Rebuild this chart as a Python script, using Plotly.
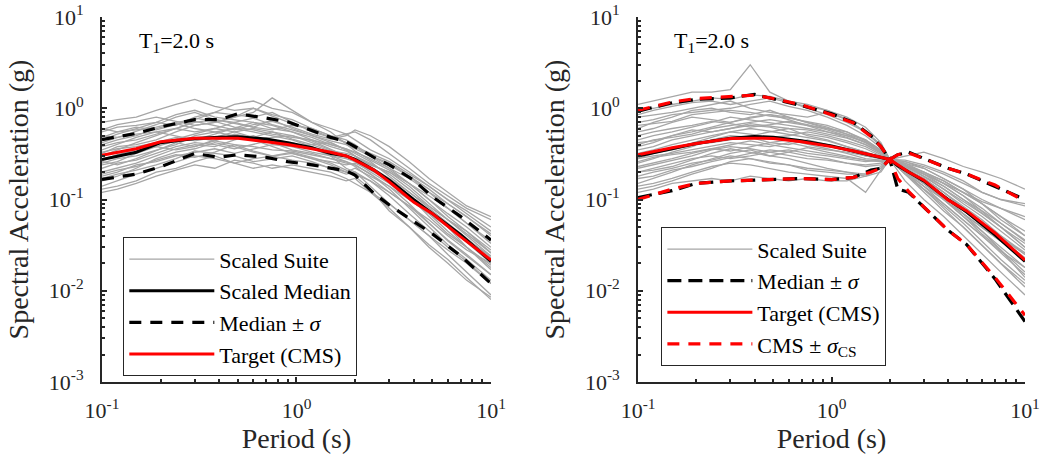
import plotly.graph_objects as go

# ---------------- data ----------------
# common period grid for the suite records (s)
suite_periods = [0.1, 0.12, 0.15, 0.19, 0.24, 0.3, 0.38, 0.48, 0.6, 0.75, 0.95,
                 1.2, 1.5, 1.8, 2.0, 2.4, 3.0, 3.8, 4.8, 6.0, 7.5, 10.0]

left_suite = [
    [0.70,0.75,0.80,0.95,1.10,1.25,1.05,0.95,1.00,0.85,0.75,0.60,0.50,0.45,0.40,0.30,0.22,0.15,0.10,0.065,0.045,0.026],
    [0.13,0.14,0.16,0.20,0.22,0.26,0.30,0.25,0.22,0.24,0.22,0.20,0.18,0.16,0.17,0.12,0.09,0.06,0.04,0.028,0.020,0.012],
    [0.45,0.52,0.60,0.70,0.65,0.80,0.90,1.10,1.20,1.00,0.90,0.70,0.60,0.52,0.45,0.35,0.28,0.20,0.14,0.10,0.070,0.045],
    [0.20,0.22,0.25,0.30,0.36,0.40,0.38,0.45,0.50,0.42,0.35,0.32,0.28,0.25,0.24,0.19,0.13,0.08,0.05,0.032,0.022,0.013],
    [0.30,0.35,0.42,0.50,0.60,0.55,0.60,0.70,0.62,0.75,0.60,0.50,0.42,0.35,0.30,0.24,0.20,0.14,0.09,0.06,0.045,0.028],
    [0.16,0.18,0.22,0.28,0.33,0.36,0.42,0.38,0.33,0.30,0.27,0.25,0.22,0.20,0.22,0.18,0.14,0.09,0.055,0.035,0.024,0.015],
    [0.55,0.62,0.65,0.70,0.85,0.95,0.80,0.75,0.70,0.60,0.55,0.45,0.38,0.34,0.30,0.25,0.19,0.13,0.085,0.06,0.040,0.024],
    [0.25,0.28,0.30,0.35,0.40,0.50,0.55,0.60,0.55,0.50,0.45,0.38,0.30,0.28,0.26,0.20,0.15,0.10,0.07,0.05,0.034,0.020],
    [0.35,0.40,0.48,0.55,0.50,0.45,0.52,0.60,0.70,0.65,0.55,0.48,0.40,0.36,0.32,0.26,0.18,0.12,0.08,0.055,0.038,0.023],
    [0.18,0.20,0.24,0.26,0.30,0.33,0.36,0.32,0.36,0.40,0.38,0.33,0.30,0.26,0.24,0.19,0.14,0.10,0.07,0.045,0.030,0.018],
    [0.60,0.55,0.58,0.62,0.70,0.75,0.90,0.85,0.80,0.90,0.70,0.55,0.48,0.52,0.55,0.45,0.32,0.22,0.15,0.11,0.080,0.060],
    [0.22,0.25,0.27,0.32,0.38,0.42,0.40,0.36,0.40,0.45,0.42,0.36,0.30,0.22,0.20,0.14,0.09,0.06,0.04,0.025,0.016,0.009],
    [0.40,0.45,0.50,0.60,0.68,0.60,0.55,0.50,0.45,0.48,0.50,0.44,0.36,0.30,0.28,0.24,0.20,0.15,0.11,0.08,0.055,0.035],
    [0.28,0.30,0.36,0.40,0.46,0.52,0.60,0.55,0.48,0.42,0.38,0.40,0.42,0.35,0.30,0.22,0.17,0.12,0.085,0.06,0.042,0.026],
    [0.14,0.16,0.19,0.22,0.26,0.30,0.28,0.25,0.28,0.30,0.32,0.28,0.24,0.20,0.19,0.16,0.11,0.07,0.045,0.03,0.021,0.012],
    [0.50,0.48,0.52,0.55,0.60,0.70,0.75,0.68,0.62,0.58,0.65,0.60,0.50,0.42,0.38,0.30,0.24,0.18,0.12,0.09,0.065,0.040],
    [0.32,0.38,0.40,0.45,0.55,0.65,0.70,0.80,0.90,1.30,0.95,0.70,0.55,0.40,0.34,0.27,0.21,0.15,0.10,0.07,0.050,0.030],
    [0.24,0.26,0.32,0.38,0.35,0.38,0.45,0.50,0.45,0.38,0.32,0.28,0.26,0.24,0.25,0.21,0.16,0.11,0.075,0.05,0.030,0.017],
    [0.38,0.42,0.45,0.52,0.60,0.72,0.65,0.58,0.66,0.72,0.62,0.52,0.46,0.50,0.58,0.50,0.38,0.26,0.17,0.12,0.085,0.065],
    [0.19,0.21,0.23,0.27,0.31,0.29,0.33,0.40,0.34,0.30,0.33,0.29,0.25,0.21,0.18,0.13,0.075,0.05,0.032,0.022,0.014,0.008],
    [0.48,0.55,0.62,0.58,0.66,0.78,0.72,0.62,0.58,0.52,0.48,0.45,0.40,0.36,0.33,0.28,0.22,0.17,0.12,0.08,0.055,0.033],
    [0.26,0.24,0.28,0.34,0.42,0.38,0.44,0.52,0.48,0.55,0.50,0.42,0.35,0.30,0.26,0.22,0.16,0.11,0.065,0.042,0.030,0.019],
    [0.12,0.13,0.15,0.18,0.21,0.24,0.22,0.27,0.25,0.22,0.24,0.22,0.20,0.17,0.15,0.12,0.08,0.05,0.03,0.02,0.013,0.0085],
    [0.42,0.48,0.56,0.66,0.80,0.90,0.75,0.70,0.78,0.66,0.58,0.50,0.44,0.40,0.36,0.30,0.25,0.18,0.13,0.09,0.065,0.042],
    [0.33,0.36,0.38,0.42,0.48,0.44,0.48,0.55,0.60,0.55,0.46,0.40,0.34,0.32,0.30,0.23,0.17,0.11,0.075,0.05,0.036,0.024],
    [0.17,0.19,0.21,0.24,0.28,0.34,0.32,0.30,0.26,0.28,0.30,0.26,0.22,0.19,0.20,0.16,0.12,0.085,0.06,0.04,0.028,0.020],
    [0.58,0.66,0.72,0.80,0.72,0.65,0.70,0.80,1.00,0.82,0.68,0.58,0.48,0.42,0.38,0.32,0.26,0.19,0.14,0.10,0.075,0.050],
    [0.27,0.31,0.35,0.38,0.44,0.48,0.44,0.40,0.38,0.35,0.34,0.31,0.28,0.26,0.23,0.17,0.12,0.085,0.055,0.036,0.025,0.015],
]

right_suite = [
    [1.10,1.20,1.35,1.50,1.50,1.60,3.00,1.50,1.20,1.10,0.95,0.75,0.55,0.38,0.275,0.30,0.33,0.28,0.23,0.20,0.17,0.13],
    [0.12,0.13,0.15,0.16,0.17,0.16,0.18,0.17,0.16,0.17,0.16,0.16,0.18,0.22,0.275,0.16,0.10,0.065,0.04,0.025,0.016,0.009],
    [0.60,0.70,0.80,0.95,1.00,0.90,0.85,0.95,0.80,0.70,0.60,0.55,0.45,0.34,0.275,0.22,0.16,0.10,0.065,0.042,0.028,0.016],
    [0.30,0.32,0.35,0.40,0.42,0.45,0.50,0.55,0.60,0.50,0.45,0.38,0.33,0.29,0.275,0.25,0.22,0.17,0.13,0.09,0.065,0.040],
    [0.20,0.22,0.25,0.28,0.30,0.28,0.30,0.33,0.35,0.32,0.30,0.28,0.26,0.27,0.275,0.20,0.14,0.09,0.06,0.04,0.026,0.015],
    [0.45,0.50,0.55,0.62,0.70,0.80,0.75,0.70,0.65,0.60,0.55,0.48,0.40,0.32,0.275,0.24,0.18,0.13,0.095,0.07,0.050,0.030],
    [0.15,0.17,0.20,0.24,0.28,0.32,0.35,0.30,0.28,0.25,0.22,0.20,0.19,0.22,0.275,0.27,0.24,0.20,0.16,0.12,0.100,0.085],
    [0.80,0.85,0.90,1.00,1.10,1.20,1.00,0.90,0.85,0.80,0.90,0.75,0.55,0.40,0.275,0.19,0.13,0.08,0.05,0.032,0.020,0.011],
    [0.25,0.28,0.33,0.38,0.45,0.50,0.48,0.42,0.40,0.45,0.40,0.35,0.30,0.28,0.275,0.23,0.19,0.15,0.11,0.075,0.050,0.030],
    [0.35,0.38,0.45,0.50,0.55,0.60,0.65,0.62,0.55,0.52,0.48,0.42,0.36,0.30,0.275,0.21,0.15,0.10,0.07,0.05,0.035,0.022],
    [0.18,0.20,0.22,0.25,0.27,0.30,0.28,0.25,0.24,0.22,0.21,0.20,0.18,0.20,0.275,0.25,0.20,0.15,0.12,0.095,0.080,0.060],
    [0.55,0.60,0.70,0.80,0.75,0.70,0.80,0.85,0.75,0.65,0.55,0.50,0.42,0.35,0.275,0.20,0.13,0.09,0.06,0.04,0.027,0.018],
    [0.28,0.30,0.32,0.35,0.38,0.42,0.40,0.38,0.42,0.38,0.35,0.33,0.30,0.28,0.275,0.22,0.17,0.12,0.085,0.06,0.040,0.025],
    [0.40,0.45,0.48,0.52,0.60,0.65,0.70,0.75,0.70,0.65,0.60,0.52,0.45,0.35,0.275,0.24,0.20,0.16,0.12,0.09,0.060,0.040],
    [0.22,0.24,0.27,0.30,0.35,0.38,0.36,0.33,0.30,0.28,0.27,0.25,0.24,0.25,0.275,0.21,0.16,0.11,0.07,0.045,0.028,0.014],
    [0.70,0.75,0.85,0.90,0.95,1.00,1.10,1.20,1.05,0.95,0.80,0.65,0.50,0.37,0.275,0.20,0.14,0.10,0.07,0.05,0.035,0.021],
    [0.14,0.15,0.17,0.20,0.23,0.25,0.24,0.22,0.20,0.19,0.18,0.17,0.12,0.21,0.275,0.23,0.19,0.14,0.10,0.07,0.050,0.033],
    [0.32,0.35,0.40,0.45,0.50,0.55,0.52,0.48,0.50,0.55,0.50,0.44,0.38,0.31,0.275,0.23,0.18,0.13,0.09,0.065,0.045,0.028],
    [0.95,1.00,1.10,1.20,1.30,1.25,1.40,1.35,1.20,1.00,0.85,0.70,0.55,0.40,0.275,0.22,0.15,0.10,0.065,0.045,0.030,0.018],
    [0.26,0.29,0.31,0.33,0.36,0.40,0.44,0.40,0.37,0.34,0.31,0.29,0.27,0.26,0.275,0.26,0.23,0.19,0.15,0.12,0.100,0.090],
    [0.50,0.55,0.60,0.65,0.72,0.68,0.62,0.66,0.72,0.66,0.58,0.50,0.43,0.34,0.275,0.19,0.12,0.075,0.05,0.032,0.020,0.012],
    [0.17,0.18,0.21,0.23,0.26,0.29,0.32,0.35,0.33,0.30,0.28,0.25,0.23,0.24,0.275,0.22,0.17,0.12,0.08,0.055,0.035,0.022],
    [0.38,0.42,0.50,0.55,0.62,0.70,0.78,0.85,0.80,0.70,0.62,0.52,0.42,0.33,0.275,0.23,0.18,0.14,0.10,0.075,0.055,0.035],
    [0.23,0.25,0.28,0.32,0.36,0.34,0.38,0.42,0.45,0.40,0.36,0.32,0.28,0.27,0.275,0.24,0.19,0.15,0.11,0.08,0.055,0.036],
    [0.65,0.68,0.72,0.85,0.90,0.95,0.90,0.82,0.78,0.72,0.65,0.55,0.44,0.34,0.275,0.21,0.15,0.11,0.075,0.052,0.036,0.023],
    [0.13,0.14,0.16,0.19,0.22,0.26,0.28,0.26,0.24,0.21,0.20,0.19,0.19,0.23,0.275,0.26,0.22,0.17,0.13,0.10,0.080,0.065],
    [0.42,0.44,0.50,0.58,0.55,0.60,0.68,0.64,0.60,0.58,0.52,0.47,0.40,0.33,0.275,0.22,0.17,0.12,0.08,0.055,0.038,0.025],
    [0.28,0.32,0.36,0.42,0.48,0.55,0.60,0.56,0.52,0.48,0.44,0.38,0.33,0.29,0.275,0.20,0.15,0.11,0.08,0.055,0.040,0.026],
    [0.85,0.95,1.05,1.15,1.20,1.10,1.20,1.30,1.15,1.05,0.95,0.80,0.62,0.42,0.275,0.24,0.20,0.16,0.12,0.09,0.065,0.045],
    [0.20,0.21,0.23,0.27,0.32,0.36,0.33,0.30,0.33,0.37,0.33,0.30,0.27,0.26,0.275,0.19,0.13,0.085,0.055,0.035,0.022,0.013],
]

# summary curves, left panel
left_periods = [0.1, 0.15, 0.2, 0.3, 0.4, 0.5, 0.7, 0.9, 1.2, 1.5, 1.8, 2.0, 2.5, 3.0, 4.0, 5.0, 7.0, 10.0]
left_target = [0.306, 0.36, 0.43, 0.47, 0.47, 0.47, 0.43, 0.40, 0.36, 0.33, 0.30, 0.27, 0.21, 0.156, 0.094, 0.070, 0.039, 0.0217]
left_median = [0.275, 0.33, 0.42, 0.466, 0.48, 0.486, 0.46, 0.42, 0.37, 0.32, 0.30, 0.275, 0.21, 0.163, 0.10, 0.070, 0.041, 0.021]
left_plus = [0.454, 0.53, 0.625, 0.75, 0.75, 0.87, 0.78, 0.71, 0.57, 0.48, 0.43, 0.38, 0.29, 0.24, 0.163, 0.107, 0.065, 0.036]
left_minus = [0.166, 0.19, 0.228, 0.32, 0.29, 0.31, 0.29, 0.26, 0.24, 0.22, 0.206, 0.185, 0.117, 0.087, 0.057, 0.042, 0.024, 0.012]

# summary curves, right panel
right_periods = [0.1, 0.15, 0.2, 0.3, 0.4, 0.5, 0.7, 1.0, 1.3, 1.6, 1.8, 2.0, 2.2, 2.5, 3.0, 4.0, 5.0, 7.0, 10.0]
right_target = [0.31, 0.37, 0.41, 0.466, 0.47, 0.466, 0.43, 0.38, 0.34, 0.31, 0.29, 0.275, 0.24, 0.20, 0.163, 0.099, 0.075, 0.043, 0.0217]
right_median = [0.30, 0.36, 0.41, 0.47, 0.49, 0.48, 0.44, 0.385, 0.34, 0.31, 0.29, 0.275, 0.235, 0.20, 0.16, 0.10, 0.073, 0.041, 0.021]
right_med_plus = [0.93, 1.15, 1.25, 1.30, 1.42, 1.27, 1.07, 0.87, 0.70, 0.50, 0.38, 0.275, 0.31, 0.33, 0.28, 0.22, 0.19, 0.14, 0.100]
right_med_minus = [0.105, 0.125, 0.15, 0.16, 0.163, 0.165, 0.17, 0.165, 0.175, 0.21, 0.22, 0.275, 0.13, 0.12, 0.083, 0.046, 0.032, 0.0135, 0.0046]
right_cms_plus = [0.95, 1.17, 1.28, 1.33, 1.39, 1.28, 1.09, 0.85, 0.69, 0.49, 0.38, 0.275, 0.31, 0.325, 0.28, 0.22, 0.19, 0.144, 0.096]
right_cms_minus = [0.10, 0.13, 0.15, 0.16, 0.163, 0.166, 0.17, 0.165, 0.175, 0.20, 0.22, 0.275, 0.17, 0.123, 0.083, 0.046, 0.032, 0.014, 0.0054]

x_tickvals = [0.1, 1, 10]
x_ticktext = ["10<sup>-1</sup>", "10<sup>0</sup>", "10<sup>1</sup>"]
y_tickvals = [0.001, 0.01, 0.1, 1, 10]
y_ticktext = ["10<sup>-3</sup>", "10<sup>-2</sup>", "10<sup>-1</sup>", "10<sup>0</sup>", "10<sup>1</sup>"]
x_minor = [m * d for d in (0.1, 1) for m in range(2, 10)]
y_minor = [m * d for d in (0.001, 0.01, 0.1, 1) for m in range(2, 10)]

# ---------------- styles ----------------
FONT = "Liberation Serif, Times New Roman, serif"
AX = "#262626"
GRAY = "#a6a6a6"
RED = "#ff0000"

fig = go.Figure()

def add(x, y, xa, ya, lg, **kw):
    fig.add_trace(go.Scatter(x=x, y=y, mode="lines", xaxis=xa, yaxis=ya, legend=lg,
                             hoverinfo="skip", **kw))

# left panel
for i, rec in enumerate(left_suite):
    add(suite_periods, rec, "x", "y", "legend", name="Scaled Suite", legendgroup="ls",
        showlegend=(i == 0), line=dict(color=GRAY, width=1.3))
add(left_periods, left_median, "x", "y", "legend", name="Scaled Median",
    line=dict(color="black", width=3))
add(left_periods, left_plus, "x", "y", "legend", name="Median ± <i>σ</i>", legendgroup="lpm",
    line=dict(color="black", width=3.2, dash="12px,9px"))
add(left_periods, left_minus, "x", "y", "legend", name="Median ± <i>σ</i>", legendgroup="lpm",
    showlegend=False, line=dict(color="black", width=3.2, dash="12px,9px"))
add(left_periods, left_target, "x", "y", "legend", name="Target (CMS)",
    line=dict(color=RED, width=3))

# right panel
for i, rec in enumerate(right_suite):
    add(suite_periods, rec, "x2", "y2", "legend2", name="Scaled Suite", legendgroup="rs",
        showlegend=(i == 0), line=dict(color=GRAY, width=1.3))
add(right_periods, right_med_plus, "x2", "y2", "legend2", name="Median ± <i>σ</i>", legendgroup="rpm",
    line=dict(color="black", width=3.2, dash="14px,7px"))
add(right_periods, right_med_minus, "x2", "y2", "legend2", name="Median ± <i>σ</i>", legendgroup="rpm",
    showlegend=False, line=dict(color="black", width=3.2, dash="14px,7px"))
add(right_periods, right_median, "x2", "y2", "legend2", name="Scaled Median",
    showlegend=False, line=dict(color="black", width=3))
add(right_periods, right_target, "x2", "y2", "legend2", name="Target (CMS)",
    line=dict(color=RED, width=3))
add(right_periods, right_cms_plus, "x2", "y2", "legend2", name="CMS ± <i>σ</i><sub>CS</sub>", legendgroup="rcs",
    line=dict(color=RED, width=3.2, dash="12px,9px"))
add(right_periods, right_cms_minus, "x2", "y2", "legend2", name="CMS ± <i>σ</i><sub>CS</sub>", legendgroup="rcs",
    showlegend=False, line=dict(color=RED, width=3.2, dash="12px,9px"))

YDOM = [0.1872, 0.9638]

def xaxis(domain, anchor):
    return dict(type="log", range=[-1, 1], domain=domain, anchor=anchor,
                showline=True, linecolor=AX, linewidth=1.8, mirror=False,
                showgrid=False, zeroline=False,
                ticks="inside", ticklen=5, tickwidth=1.5, tickcolor=AX,
                tickmode="array", tickvals=x_tickvals, ticktext=x_ticktext,
                tickfont=dict(family=FONT, size=22, color=AX), ticklabelstandoff=8,
                minor=dict(ticks="inside", ticklen=3, tickwidth=1.5, tickcolor=AX,
                           tickmode="array", tickvals=x_minor, showgrid=False),
                title=dict(text="Period (s)", font=dict(family=FONT, size=28, color=AX), standoff=6),
                automargin=False)

def yaxis(anchor):
    return dict(type="log", range=[-3, 1], domain=YDOM, anchor=anchor,
                showline=True, linecolor=AX, linewidth=1.8, mirror=False,
                showgrid=False, zeroline=False,
                ticks="inside", ticklen=5, tickwidth=1.5, tickcolor=AX,
                tickmode="array", tickvals=y_tickvals, ticktext=y_ticktext,
                tickfont=dict(family=FONT, size=22, color=AX), ticklabelstandoff=12,
                minor=dict(ticks="inside", ticklen=3, tickwidth=1.5, tickcolor=AX,
                           tickmode="array", tickvals=y_minor, showgrid=False),
                title=dict(text="Spectral Acceleration (g)", font=dict(family=FONT, size=28, color=AX), standoff=12),
                automargin=False)

legend_common = dict(xanchor="left", yanchor="top", bgcolor="white",
                     bordercolor=AX, borderwidth=1.3,
                     font=dict(family=FONT, size=22, color="black"),
                     tracegroupgap=0, itemwidth=85)

fig.update_layout(
    width=1046, height=470,
    margin=dict(l=0, r=0, t=0, b=0),
    paper_bgcolor="white", plot_bgcolor="white",
    font=dict(family=FONT, color=AX),
    xaxis=xaxis([0.0975, 0.4694], "y"),
    yaxis=yaxis("x"),
    xaxis2=xaxis([0.6100, 0.9799], "y2"),
    yaxis2=yaxis("x2"),
    legend=dict(x=0.1176, y=0.4957, **legend_common),
    legend2=dict(x=0.632, y=0.517, **legend_common),
    annotations=[
        dict(text="T<sub>1</sub>=2.0 s", xref="paper", yref="paper", x=137 / 1046, y=1 - 42 / 470,
             xanchor="left", yanchor="middle", showarrow=False,
             font=dict(family=FONT, size=22, color="black")),
        dict(text="T<sub>1</sub>=2.0 s", xref="paper", yref="paper", x=672 / 1046, y=1 - 42 / 470,
             xanchor="left", yanchor="middle", showarrow=False,
             font=dict(family=FONT, size=22, color="black")),
    ],
)

fig.write_html("out.html")
